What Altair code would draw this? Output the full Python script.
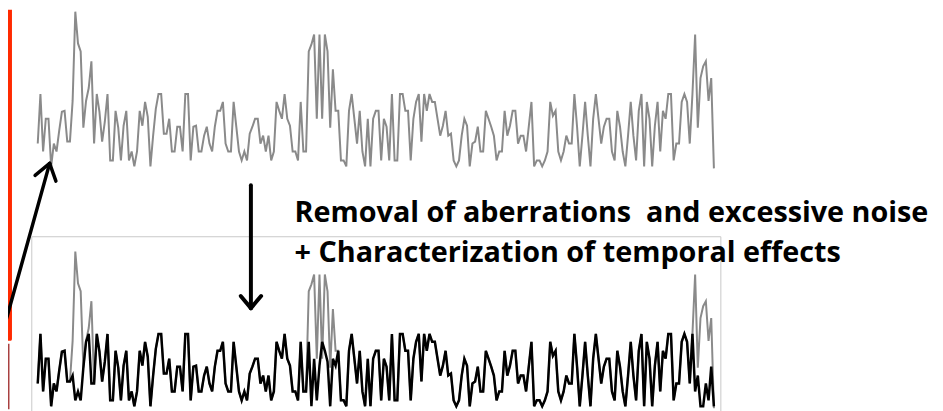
import math
import altair as alt
import pandas as pd

# cleaned signal (after removal of aberrations), height units
cleaned = [27, 77, 19, 52, 52, 4, 27, 19, 40, 59, 60, 29, 29, 35, 10, 19, 10, 43, 69, 77,
           27, 27, 77, 59, 29, 49, 77, 10, 10, 60, 43, 10, 45, 60, 10, 19, 4, 19, 60, 45,
           69, 54, 4, 35, 62, 77, 77, 37, 37, 52, 19, 19, 44, 44, 19, 77, 77, 10, 44, 45,
           19, 19, 35, 44, 27, 19, 44, 60, 60, 69, 27, 19, 19, 69, 44, 19, 10, 19, 10, 37,
           44, 52, 52, 27, 35, 19, 35, 10, 19, 69, 60, 52, 77, 52, 45, 19, 19, 10, 69, 19,
           19, 69, 4, 52, 10, 45, 69, 60, 49, 4, 52, 45, 60, 10, 10, 4, 60, 77, 52, 27,
           60, 19, 4, 52, 4, 52, 60, 60, 10, 52, 44, 10, 77, 10, 10, 77, 77, 60, 60, 10,
           52, 69, 77, 29, 77, 60, 77, 69, 69, 52, 35, 45, 60, 35, 37, 10, 4, 10, 35, 52,
           45, 4, 27, 29, 44, 19, 19, 60, 52, 44, 35, 10, 19, 19, 60, 35, 45, 60, 60, 27,
           35, 35, 19, 44, 69, 4, 10, 10, 4, 10, 19, 69, 55, 60, 19, 10, 19, 35, 27, 27,
           77, 44, 4, 35, 69, 35, 4, 52, 77, 52, 27, 44, 52, 52, 19, 10, 60, 44, 19, 4,
           35, 69, 35, 10, 60, 77, 4, 69, 52, 4, 45, 69, 19, 60, 52, 77, 77, 10, 27, 27,
           69, 77, 69, 27, 77, 19, 35, 4, 4, 27, 10, 44, 4]

# raw signal: same as cleaned except at the aberrant spikes
spike_idx = [13, 14, 15, 16, 17, 18, 19, 20, 21,
             101, 102, 103, 104, 105, 106, 107, 108, 109, 110, 111,
             245, 246, 247, 248, 249, 250, 251, 252]
spike_val = [70, 160, 128, 120, 43, 70, 83, 110, 27,
             120, 127, 137, 52, 137, 52, 137, 120, 43, 102, 60,
             137, 43, 93, 105, 110, 70, 93, 2]

raw = list(cleaned)
for i, v in zip(spike_idx, spike_val):
    raw[i] = v

line1 = "Removal of aberrations\u00a0 and excessive noise"
line2 = "+ Characterization of temporal effects"

N = len(cleaned)
W, H = 935, 403
step = (720 - 38) / (N - 1)
x0 = 30
xdom = [-x0 / step, (W - x0) / step]

df = pd.DataFrame({"t": list(range(N)), "raw": raw, "cleaned": cleaned})

xs = alt.X("t:Q", scale=alt.Scale(domain=xdom, nice=False, zero=False), axis=None)

top_gray = alt.Chart(df).mark_line(color="#8a8a8a", strokeWidth=2).encode(
    x=xs,
    y=alt.Y("raw:Q", scale=alt.Scale(domain=[-241, 162], nice=False, zero=False), axis=None),
)
bot_gray = alt.Chart(df).mark_line(color="#8a8a8a", strokeWidth=2).encode(
    x=xs,
    y=alt.Y("raw:Q", scale=alt.Scale(domain=[1, 404], nice=False, zero=False), axis=None),
)
bot_black = alt.Chart(df).mark_line(color="#000000", strokeWidth=2.5).encode(
    x=xs,
    y=alt.Y("cleaned:Q", scale=alt.Scale(domain=[1, 404], nice=False, zero=False), axis=None),
)

dummy = pd.DataFrame({"a": [0]})
base = alt.Chart(dummy)

red_bar = base.mark_rect(color="#FF2A00", cornerRadiusBottomRight=4).encode(
    x=alt.value(0), x2=alt.value(4), y=alt.value(0), y2=alt.value(334))
dark_strip = base.mark_rect(color="#A84040").encode(
    x=alt.value(0), x2=alt.value(1.5), y=alt.value(337), y2=alt.value(403))

box = base.mark_rect(fill="white", fillOpacity=0, stroke="#c8c8c8", strokeWidth=1).encode(
    x=alt.value(24), x2=alt.value(719), y=alt.value(229), y2=alt.value(420))


def seg(xa, ya, xb, yb, w):
    return base.mark_rule(color="black", strokeWidth=w, strokeCap="round").encode(
        x=alt.value(xa), y=alt.value(ya), x2=alt.value(xb), y2=alt.value(yb))


def arrow(xa, ya, xb, yb, w, L, ang):
    d = math.hypot(xb - xa, yb - ya)
    ux, uy = (xa - xb) / d, (ya - yb) / d
    parts = [seg(xa, ya, xb, yb, w)]
    for s in (1, -1):
        a = math.radians(ang) * s
        rx = ux * math.cos(a) - uy * math.sin(a)
        ry = ux * math.sin(a) + uy * math.cos(a)
        parts.append(seg(xb, yb, xb + rx * L, yb + ry * L, w))
    return parts


arrows = arrow(-8, 335, 42, 155, 3.5, 19, 35) + arrow(245, 177, 245, 301, 4, 16, 40)

t1 = base.mark_text(text=line1, font="Open Sans", fontWeight="bold", fontSize=29,
                    align="left", baseline="alphabetic", color="black").encode(
    x=alt.value(289), y=alt.value(214))
t2 = base.mark_text(text=line2, font="Open Sans", fontWeight="bold", fontSize=29,
                    align="left", baseline="alphabetic", color="black").encode(
    x=alt.value(289), y=alt.value(254))

chart = alt.layer(
    box, top_gray, bot_gray, bot_black, red_bar, dark_strip, *arrows, t1, t2
).resolve_scale(y="independent").properties(
    width=W, height=H, padding=0, autosize=alt.AutoSizeParams(type="none")
).configure_view(strokeWidth=0)

chart.save("out.html", embed_options={"renderer": "svg", "actions": False})
